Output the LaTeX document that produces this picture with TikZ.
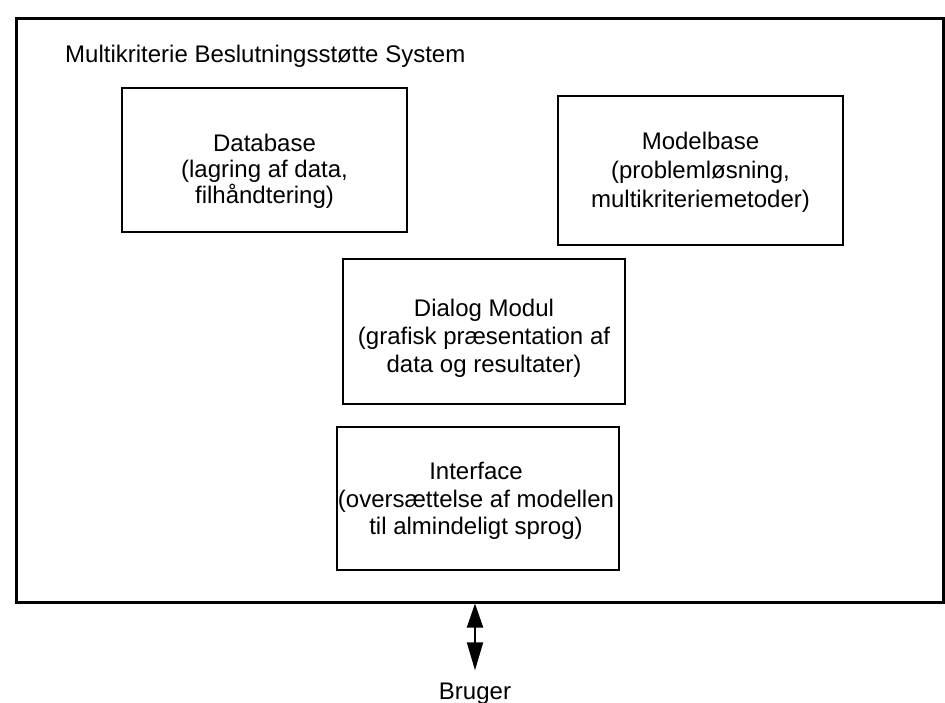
\documentclass[tikz,border=0pt]{standalone}
\usepackage{fontspec}
\setmainfont{Liberation Sans}
\usetikzlibrary{arrows.meta}
\begin{document}
\begin{tikzpicture}[x=1pt,y=-1pt,
  modbox/.style={draw, line width=2.6pt, inner sep=0pt},
  lbl/.style={align=center, font=\fontsize{24}{#1}\selectfont, inner sep=0pt},
  lbl/.default=27,
  plain/.style={font=\fontsize{24}{27}\selectfont, inner sep=0pt}]
\useasboundingbox (0,0) rectangle (945,703);
% outer system frame
\node[modbox, line width=3pt, minimum width=927pt, minimum height=583pt] (sys) at (479.5,310.5) {};
\node[plain, anchor=base west] (title) at (65,63) {Multikriterie Beslutningsstøtte System};
% modules
\node[modbox, minimum width=285pt, minimum height=144pt] (db) at (264.5,160) {};
\node[lbl=26] (dbt) at (264.5,171) {Database\\(lagring af data,\\filhåndtering)};
\node[modbox, minimum width=285pt, minimum height=149pt] (mb) at (700.5,170.5) {};
\node[lbl=29] (mbt) at (700.5,172) {Modelbase\\(problemløsning,\\multikriteriemetoder)};
\node[modbox, minimum width=282pt, minimum height=145pt] (dm) at (484,331.5) {};
\node[lbl=28] (dmt) at (484,338) {Dialog Modul\\(grafisk præsentation af\\data og resultater)};
\node[modbox, minimum width=282pt, minimum height=143pt] (ifc) at (478,498.5) {};
\node[lbl=27.5] (ifct) at (476,501) {Interface\\(oversættelse af modellen\\til almindeligt sprog)};
% user
\node[plain, anchor=base] (bruger) at (475,699) {Bruger};
\draw[{Triangle[length=24pt,width=16pt]}-{Triangle[length=28pt,width=16pt]}, line width=2pt]
  (sys.south -| bruger) -- ([yshift=12pt]bruger.north);
\end{tikzpicture}
\end{document}
